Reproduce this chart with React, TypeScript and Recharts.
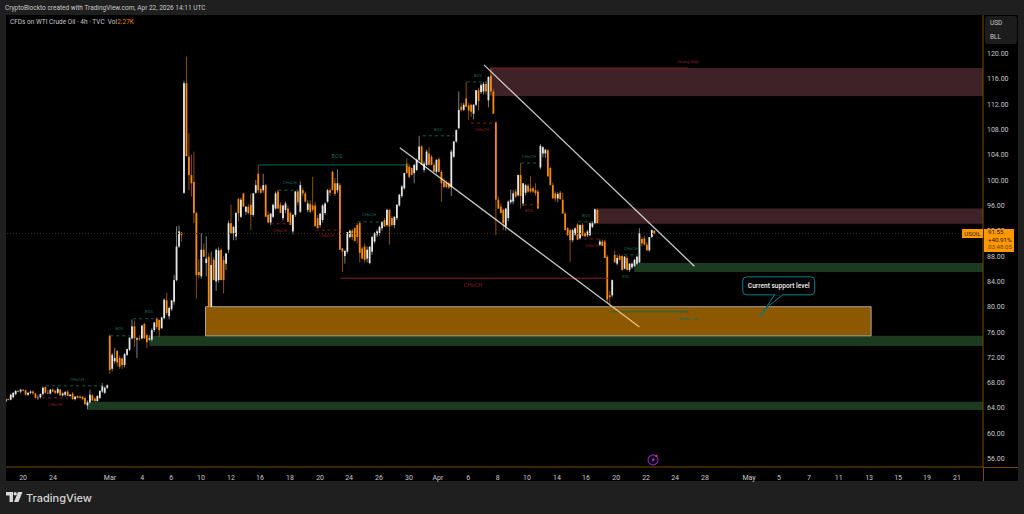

import React from "react";
import { ComposedChart, Bar, XAxis, YAxis, ReferenceArea, ReferenceLine, ReferenceDot } from "recharts";

type Ohlc = [number, number, number, number];

// Each row: open, high, low, close
const febBars: Ohlc[] = [
  [65.0,65.6,64.9,65.4],[65.4,65.5,65.2,65.3],[65.3,66.3,65.2,66.1],[65.7,66.5,65.5,66.4],[66.2,66.8,66.0,66.7],
  [66.7,66.9,66.5,66.6],[66.6,67.0,66.3,66.9],[66.9,67.0,66.6,66.8],[66.8,66.9,66.0,66.1],[66.1,66.5,65.9,66.4],
  [66.4,66.8,66.2,66.6],[66.6,66.8,66.1,66.3],[66.3,66.3,65.5,65.6],[65.6,66.0,65.3,65.7],[65.7,66.3,65.5,66.2],
  [66.2,67.4,66.0,67.2],[67.3,67.4,66.3,66.4],[66.4,66.9,66.2,66.3],[66.3,67.0,66.1,66.9],[66.9,67.1,66.5,66.6],
  [66.7,66.9,66.2,66.4],[66.4,67.3,66.2,67.0],[66.9,67.0,65.9,66.0],[66.0,66.5,65.8,66.3],[66.1,66.7,65.8,66.5],
  [66.6,66.8,65.9,65.9],[65.9,66.2,65.7,66.1],[66.3,66.5,65.3,65.4],[65.4,65.9,65.2,65.8],[65.9,66.0,65.5,65.6],
  [65.8,66.0,65.5,65.6],[65.8,65.9,65.3,65.4],[65.6,65.8,64.5,64.6],[64.4,65.2,63.8,64.9],[64.9,66.9,64.7,66.1],
  [66.0,66.2,65.1,65.2],[65.5,65.7,65.0,65.1],[65.1,66.0,65.0,65.9],[65.6,66.8,65.4,66.7],[66.6,67.9,66.4,67.5],
  [66.4,67.4,66.2,67.2],[67.2,67.7,67.0,67.6],
];
const marchRally: Ohlc[] = [
  [75.4,75.6,69.4,70.0],[70.2,72.7,69.8,72.4],[71.4,73.5,71.0,71.9],[73.0,73.2,70.6,71.2],[71.9,72.3,70.2,70.5],
  [71.8,72.0,70.2,70.8],[70.8,72.7,70.4,72.5],[72.4,73.4,72.2,73.3],[73.2,75.2,73.0,75.1],[75.0,78.0,74.8,76.9],
  [76.9,77.8,73.7,75.0],[74.8,75.2,71.9,75.0],[75.0,75.5,74.6,74.9],[75.0,77.2,74.8,77.0],[77.3,77.4,74.9,75.0],
  [75.5,75.8,73.5,74.4],[74.8,75.5,74.6,75.0],[74.8,76.6,74.5,76.3],[76.3,77.6,76.0,77.5],[78.1,78.3,76.5,76.8],
  [77.9,78.0,75.2,76.3],[76.6,78.4,76.5,78.3],[78.2,81.3,78.0,81.1],[81.0,82.2,78.7,79.0],[78.5,80.0,78.0,79.8],
  [79.6,81.1,79.3,81.0],[80.8,85.0,80.3,84.2],[84.2,92.7,84.0,89.5],[89.5,92.8,89.3,91.9],[91.7,91.8,90.3,91.3],
  [98.0,115.7,97.8,115.3],[115.3,119.5,103.7,103.8],[103.7,107.4,98.4,100.8],[100.8,104.0,97.4,99.5],[99.7,104.5,93.2,94.8],
  [94.8,95.0,81.3,85.0],[85.5,87.5,84.5,85.0],[84.8,91.6,84.4,89.0],[89.0,90.0,87.9,87.9],[86.9,91.1,84.8,87.6],
  [87.9,88.5,80.0,80.0],[80.0,88.7,79.9,86.6],[87.4,87.8,84.2,84.2],[84.0,89.2,82.5,89.0],[84.2,89.4,83.8,88.9],
  [89.0,89.2,84.2,84.2],[87.4,88.0,82.1,84.2],[86.8,88.5,85.8,88.4],
];
const marchRange: Ohlc[] = [
  [89.0,93.6,88.5,93.2],[93.2,96.1,91.5,91.6],[91.6,92.8,90.5,92.6],[91.1,95.0,90.5,94.8],[97.0,97.2,93.5,94.8],
  [94.2,97.2,94.0,96.9],[97.9,98.0,95.8,95.8],[95.0,95.9,94.5,95.8],[95.8,96.2,94.6,94.8],[96.1,97.9,92.1,94.5],
  [94.5,98.0,94.2,97.9],[98.0,100.0,97.8,99.2],[101.0,102.4,97.9,98.4],[98.6,99.0,97.8,98.0],[98.4,101.0,98.0,99.2],
  [99.2,99.4,94.2,94.2],[94.5,95.0,93.2,93.3],[93.3,94.8,92.9,94.7],[94.2,96.3,94.0,96.1],[95.5,98.2,95.3,97.9],
  [98.2,98.5,95.5,95.5],[96.1,96.5,94.8,94.8],[94.0,96.0,93.6,96.0],[95.3,96.6,94.8,96.3],[95.5,96.0,93.4,93.4],
  [94.8,95.0,92.9,92.9],[91.9,94.6,91.4,94.5],[94.5,98.3,94.2,98.2],[98.2,98.5,96.0,96.5],[95.0,99.8,94.8,99.2],
  [98.4,98.8,97.4,97.9],[97.9,98.2,96.5,96.6],[95.3,96.8,94.9,96.3],[96.2,96.8,94.8,95.0],[96.0,100.5,95.0,95.3],
  [96.0,96.5,92.7,92.7],[94.0,94.5,92.4,92.4],[92.9,94.8,92.5,94.7],[93.7,96.2,93.3,96.0],[94.8,96.5,94.5,96.3],
  [96.6,98.6,96.4,98.4],[98.4,98.8,97.5,98.0],[101.3,101.5,98.4,98.4],[99.5,100.3,97.5,97.8],[98.4,101.7,98.0,99.5],
  [99.2,99.5,89.0,89.0],[89.2,89.3,85.5,88.7],[88.0,89.0,86.8,88.8],[88.7,91.8,88.4,91.8],[91.0,92.2,90.8,92.0],
  [92.0,92.3,90.5,91.0],[92.4,92.6,90.3,90.4],[92.9,93.2,90.0,91.0],[93.2,93.4,87.0,88.5],[89.2,89.5,87.5,87.6],
  [89.5,90.0,87.0,87.4],[87.6,89.5,87.0,89.0],[86.9,89.5,86.7,89.5],[88.7,91.2,88.2,91.0],[90.3,91.8,90.0,91.6],
  [91.4,92.2,91.0,91.9],[91.6,92.8,91.2,92.6],[92.4,93.5,92.0,93.4],[93.7,94.0,92.6,92.7],[92.9,95.5,92.6,95.3],
  [95.3,95.4,89.8,92.7],[94.0,94.3,92.7,92.9],[92.9,94.3,92.4,94.2],
];
const aprilPush: Ohlc[] = [
  [94.0,96.2,93.7,96.1],[96.0,97.8,95.8,97.7],[97.5,99.2,97.2,99.0],[98.7,101.2,98.5,101.1],[102.6,103.4,101.0,101.1],
  [102.1,102.5,100.3,100.5],[101.9,102.0,100.8,100.8],[101.1,102.6,99.5,102.4],[101.6,103.4,101.4,103.2],[103.2,107.0,103.0,105.3],
  [105.3,105.5,102.4,102.4],[101.6,103.0,101.2,102.6],[102.4,104.8,102.2,104.5],[104.2,105.2,102.4,102.4],[103.7,104.0,102.3,102.4],
  [102.4,102.8,101.3,101.3],[101.3,103.3,101.0,103.2],[103.3,103.6,101.3,101.3],[101.3,101.6,96.6,99.5],[99.7,100.3,98.8,98.9],
  [99.5,100.0,98.7,98.9],[99.5,99.8,98.6,98.8],[98.9,104.8,97.5,104.5],[103.7,106.2,103.5,106.1],[106.1,108.0,105.9,107.9],
  [108.2,114.0,108.0,111.1],[111.6,112.2,110.8,111.1],[111.1,112.2,110.9,111.9],[112.9,115.5,111.5,111.6],[111.8,112.2,109.5,111.0],
  [111.9,112.0,110.0,110.8],[110.5,112.0,109.6,111.9],[111.9,114.2,111.7,114.2],[114.2,114.6,111.0,112.5],[113.9,115.3,113.6,115.0],
  [114.0,115.5,113.5,115.2],[115.2,115.6,113.5,114.0],[112.6,116.4,111.5,116.3],[116.5,117.7,113.5,114.0],[114.0,114.4,110.5,110.5],
];
const aprilDrop: Ohlc[] = [
  [109.1,109.3,91.3,96.9],[96.9,97.4,95.5,95.5],[95.8,96.3,94.7,94.8],[95.3,95.5,92.1,93.2],[92.7,95.6,92.0,95.5],
  [94.0,96.8,93.5,96.6],[96.5,98.5,96.2,96.9],[96.6,98.4,96.2,97.9],[98.2,98.6,97.2,97.4],[97.6,100.9,97.4,100.8],
  [100.8,102.7,95.5,97.5],[96.3,99.5,95.9,99.5],[98.0,99.4,97.6,99.2],[99.1,99.4,98.0,98.2],[98.7,100.6,98.0,98.2],
  [98.7,99.0,98.0,98.2],[98.4,99.5,97.5,97.9],[98.2,98.5,95.5,95.5],[102.0,105.7,101.7,105.4],[104.2,105.3,103.6,105.2],
  [104.2,104.9,103.5,104.8],[104.7,104.9,100.5,100.6],[101.9,102.1,99.2,99.2],[99.2,99.6,97.1,97.1],[97.9,98.2,96.6,97.1],
  [97.1,98.1,96.5,97.8],[98.0,98.3,96.9,97.0],[96.9,98.0,94.7,94.7],[94.7,95.0,92.1,92.1],[92.4,92.6,91.2,91.3],
  [92.1,92.3,87.1,90.5],[90.5,92.3,90.2,92.1],[91.4,92.5,91.2,92.4],[93.0,93.2,90.5,90.6],[90.8,93.0,90.6,92.9],
  [92.9,93.2,91.1,91.2],[91.6,91.8,91.0,91.1],[91.3,92.1,91.0,91.9],[91.3,93.3,91.1,93.2],[92.6,93.5,92.4,93.2],
  [93.2,95.5,93.0,95.4],[95.3,95.5,93.2,93.2],
];
const aprilEnd: Ohlc[] = [
  [89.8,90.6,89.6,90.3],[90.3,90.6,89.6,89.6],[90.3,90.6,87.7,87.7],[87.9,88.2,80.6,81.1],[81.8,82.5,79.2,81.5],
  [81.8,84.3,81.5,84.2],[88.2,88.9,87.0,87.0],[86.8,88.2,86.5,87.7],[88.0,88.3,87.2,87.4],[88.0,88.2,85.7,85.8],
  [86.0,88.0,85.9,87.9],[87.7,88.0,85.7,85.8],[85.8,86.9,85.5,86.8],[86.2,87.0,86.0,86.8],[86.4,87.6,86.3,87.4],
  [86.8,88.0,86.6,87.9],[87.0,92.4,86.9,91.6],[90.7,91.0,89.5,90.0],[90.8,91.2,89.7,89.8],[89.8,90.2,88.9,88.9],
  [88.9,91.0,88.7,91.0],[91.0,92.2,90.9,92.1],[92.0,92.1,91.5,91.55],
];

const allBars = [...febBars, ...marchRally, ...marchRange, ...aprilPush, ...aprilDrop, ...aprilEnd];
const candles = allBars.map(([o, h, l, c], i) => ({ i, o, h, l, c, range: [l, h] }));

const dateTicks = [6.9,19,42,55,66.7,78.8,90.9,102.6,114.7,126.9,138.6,150.7,162.8,174.5,186.7,198.6,210.5,222.6,234.3,246.5,258.6,270.3,282.4,300.2,312.3,324.4,336.4,348.7,360.4,372.1,384.2];
const dateLabels = ["20","24","Mar","4","6","10","12","16","18","20","24","26","30","Apr","6","8","10","14","16","20","22","24","28","May","5","7","11","13","15","19","21"];
const priceTicks = [56,60,64,68,72,76,80,84,88,92,96,100,104,108,112,116,120];

// [from bar, to bar, top price, bottom price]
const redZones = [[195.5,394.7,117.7,113.3],[238,394.7,95.5,93.1]];
const greenZones = [[253.8,394.7,86.9,85.5],[57.9,394.7,75.4,73.8],[32.8,394.7,65.0,63.7]];
const supportZone = [80.6,349.5,80,75.4];

// [from bar, to bar, price]
const greenDashes = [[16.2,40,67.5],[42.1,50.2,75.4],[51.4,61.1,78.1],[110.1,117.8,98.4],[142.1,152.6,93.4],[168.4,181,107],[186.2,194.7,115.5],[208.1,215.4,102.7],[231.2,238,93.4],[249.8,256.3,88.2]];
const redDashes = [[12.1,25.1,65.6],[106.9,115,93.1],[125.1,135.2,92.1],[187.9,197.2,109],[209.3,215,96.1],[233.6,240,90.7]];
const greenSolid = [[102,162.8,102.4],[244.5,275.7,79.2]];
const redSolid = [[135.2,243.3,84.5],[195.5,275.6,117.7]];

// [from bar, from price, to bar, to price]
const whiteTrendLines = [[193.1,118.2,278.1,86.4],[159.1,105.1,245,80]];
const trendOverSupport = [245,80,255.9,76.8];

const GREEN = "#0d6b58";
const RED = "#8f1f22";
// [text, bar, price]
const greenNotes: [string, number, number][] = [["CHoCH",28.7,68.4],["BOS",45.7,76.5],["BOS",57.8,79.2],["CHoCH",114.7,99.5],["CHoCH",146.7,94.5],["BOS",174.5,107.9],["BOS",190.7,116.4],["CHoCH",211.3,103.7],["BOS",234.3,94.3],["CHoCH",252.5,89.1],["EQL",250.5,84.7],["Weak Low",275.6,78.1]];
const redNotes: [string, number, number][] = [["CHoCH",19.8,64.5],["CHoCH",110.7,92],["CHoCH",129.7,91.2],["CHoCH",192.3,107.9],["BOS",211.3,95.1],["CHoCH",236.8,89.6],["Strong High",275.6,118.7]];
const bigNotes: [string, number, number, string][] = [["BOS",133.7,103.8,GREEN],["CHoCH",188.7,83.3,RED]];

const lastPrice = 91.55;
const calloutTip = [304.5, 78.4];
const flashMark = [261.4, 55.8];

const FONT = "Roboto, 'Open Sans', sans-serif";

function Candle(props: any) {
  const { x, y, width, height, payload } = props;
  const { o, h, l, c } = payload;
  const up = c >= o;
  const top = Math.min(y, y + height);
  const span = Math.abs(height);
  const ratio = h === l ? 0 : span / (h - l);
  const bodyTop = top + (h - Math.max(o, c)) * ratio;
  const bodyH = Math.max(Math.abs(o - c) * ratio, 0.9);
  const cx = x + width / 2;
  const color = up ? "#e6e6e6" : "#f58a0b";
  return (
    <g>
      <line x1={cx} x2={cx} y1={top} y2={top + span} stroke={up ? "#8d8d8d" : "#9a5808"} strokeWidth={0.9} />
      <rect x={cx - 0.9} y={bodyTop} width={1.8} height={bodyH} fill={color} />
    </g>
  );
}

const noteShape = (text: string, color: string, size: number) => (p: any) => (
  <text x={p.cx} y={p.cy} fill={color} fontSize={size} fontFamily={FONT} textAnchor="middle" dominantBaseline="middle">{text}</text>
);

function Callout(p: any) {
  const { cx, cy } = p;
  return (
    <g transform={`translate(${cx},${cy})`}>
      <rect x={-17} y={-40} width={72} height={18} rx={4} fill="#000" stroke="#0a7f8c" strokeWidth={1} />
      <path d="M15,-22 L0,0 L9,-11 L23,-22 Z" fill="#000" stroke="#0a7f8c" strokeWidth={1} />
      <rect x={15.5} y={-23.5} width={7} height={2} fill="#000" />
      <text x={19} y={-31} fill="#f0f0f0" fontSize={6.6} fontFamily={FONT} fontWeight={500} textAnchor="middle" dominantBaseline="middle">Current support level</text>
    </g>
  );
}

function FlashIcon(p: any) {
  const { cx, cy } = p;
  return (
    <g transform={`translate(${cx},${cy})`}>
      <circle r={5} fill="#12041c" stroke="#7b2fa8" strokeWidth={1.1} />
      <path d="M1,-3.2 L-1.6,0.6 L0,0.6 L-1,3.2 L1.8,-0.8 L0.2,-0.8 Z" fill="#9b4fd0" />
      <circle cx={3.4} cy={-4} r={1.2} fill="#e0304a" />
    </g>
  );
}

const abs = (style: React.CSSProperties): React.CSSProperties => ({ position: "absolute", whiteSpace: "nowrap", fontFamily: FONT, ...style });

export default function App() {
  return (
    <div style={{ position: "fixed", left: 0, top: 0, width: 1024, height: 514, background: "#1f1f1f", overflow: "hidden" }}>
      <div style={abs({ left: 6, top: 15, width: 1012, height: 466, background: "#000" })} />
      <div style={{ position: "absolute", left: 0, top: 0 }}>
        <ComposedChart
          width={1024}
          height={514}
          data={candles}
          margin={{ top: 15, right: 0, bottom: 27, left: 6 }}
          barSize={2}
        >
          <XAxis
            dataKey="i"
            type="number"
            scale="linear"
            domain={[0, 394.7]}
            ticks={dateTicks}
            interval={0}
            allowDataOverflow
            height={20}
            tickLine={false}
            axisLine={{ stroke: "#7a4a08" }}
            tick={{ fill: "#c9c9c9", fontSize: 7, fontFamily: FONT }}
            tickMargin={2}
            tickFormatter={(_: number, idx: number) => dateLabels[idx]}
          />
          <YAxis
            orientation="right"
            type="number"
            domain={[54.68, 126.08]}
            ticks={priceTicks}
            interval={0}
            allowDataOverflow
            width={41}
            tickLine={false}
            axisLine={{ stroke: "#7a4a08" }}
            tick={{ fill: "#c9c9c9", fontSize: 7, fontFamily: FONT }}
            tickSize={2}
            tickMargin={2}
            tickFormatter={(v: number) => v.toFixed(2)}
          />
          {redZones.map((z, k) => (
            <ReferenceArea key={`r${k}`} x1={z[0]} x2={z[1]} y1={z[2]} y2={z[3]} fill="#3f2227" fillOpacity={1} stroke="none" />
          ))}
          {greenZones.map((z, k) => (
            <ReferenceArea key={`g${k}`} x1={z[0]} x2={z[1]} y1={z[2]} y2={z[3]} fill="#1b3a1f" fillOpacity={1} stroke="none" />
          ))}
          <ReferenceArea x1={supportZone[0]} x2={supportZone[1]} y1={supportZone[2]} y2={supportZone[3]} fill="#8c5900" fillOpacity={1} stroke="#a9a49c" strokeWidth={1} />
          <ReferenceLine y={lastPrice} stroke="#46300c" strokeDasharray="1 2" strokeWidth={1} />
          <Bar dataKey="range" shape={<Candle />} isAnimationActive={false} />
          {greenDashes.map((d, k) => (
            <ReferenceLine key={`gd${k}`} segment={[{ x: d[0], y: d[2] }, { x: d[1], y: d[2] }]} stroke={GREEN} strokeDasharray="3 3" strokeWidth={0.9} />
          ))}
          {redDashes.map((d, k) => (
            <ReferenceLine key={`rd${k}`} segment={[{ x: d[0], y: d[2] }, { x: d[1], y: d[2] }]} stroke={RED} strokeDasharray="3 3" strokeWidth={0.9} />
          ))}
          {greenSolid.map((d, k) => (
            <ReferenceLine key={`gs${k}`} segment={[{ x: d[0], y: d[2] }, { x: d[1], y: d[2] }]} stroke={GREEN} strokeWidth={1} />
          ))}
          {redSolid.map((d, k) => (
            <ReferenceLine key={`rs${k}`} segment={[{ x: d[0], y: d[2] }, { x: d[1], y: d[2] }]} stroke={RED} strokeWidth={1} />
          ))}
          {whiteTrendLines.map((t, k) => (
            <ReferenceLine key={`t${k}`} segment={[{ x: t[0], y: t[1] }, { x: t[2], y: t[3] }]} stroke="#ffffff" strokeOpacity={0.78} strokeWidth={1.3} />
          ))}
          <ReferenceLine segment={[{ x: trendOverSupport[0], y: trendOverSupport[1] }, { x: trendOverSupport[2], y: trendOverSupport[3] }]} stroke="#f2bf7c" strokeWidth={1.3} />
          {greenNotes.map((n, k) => (
            <ReferenceDot key={`gn${k}`} x={n[1]} y={n[2]} r={0} shape={noteShape(n[0], GREEN, 4.2)} />
          ))}
          {redNotes.map((n, k) => (
            <ReferenceDot key={`rn${k}`} x={n[1]} y={n[2]} r={0} shape={noteShape(n[0], RED, 4.2)} />
          ))}
          {bigNotes.map((n, k) => (
            <ReferenceDot key={`bn${k}`} x={n[1]} y={n[2]} r={0} shape={noteShape(n[0], n[3], 5.6)} />
          ))}
          <ReferenceDot x={calloutTip[0]} y={calloutTip[1]} r={0} shape={<Callout />} />
          <ReferenceDot x={flashMark[0]} y={flashMark[1]} r={0} shape={<FlashIcon />} />
        </ComposedChart>
      </div>

      <div style={abs({ left: 983, top: 467, width: 35, height: 1, background: "#7a4a08" })} />
      <div style={abs({ left: 983, top: 467, width: 1, height: 14, background: "#7a4a08" })} />

      <div style={abs({ left: 5, top: 3, fontSize: 6.5, color: "#c8c8c8", lineHeight: "10px" })}>CryptoBlockto created with TradingView.com, Apr 22, 2026 14:11 UTC</div>
      <div style={abs({ left: 10, top: 17, fontSize: 6.5, color: "#c8c8c8", lineHeight: "10px" })}>
        CFDs on WTI Crude Oil · 4h · TVC&nbsp;&nbsp;Vol<span style={{ color: "#e8820c" }}>2.27K</span>
      </div>

      <div style={abs({ left: 985, top: 16, width: 32, height: 28, background: "#1c1c1c", borderRadius: 3 })} />
      <div style={abs({ left: 990, top: 18, fontSize: 6.5, color: "#c8c8c8", lineHeight: "10px" })}>USD</div>
      <div style={abs({ left: 990, top: 32, fontSize: 6.5, color: "#c8c8c8", lineHeight: "10px" })}>BLL</div>

      <div style={abs({ left: 962, top: 229, width: 21, height: 9, background: "#ff9800", color: "#2a1a00", fontSize: 6, lineHeight: "9px", textAlign: "center" })}>USOIL</div>
      <div style={abs({ left: 984, top: 229, width: 30, height: 23, background: "#ff9800", color: "#1c1000", fontSize: 6.2, lineHeight: "7.6px", paddingLeft: 4, boxSizing: "border-box" })}>
        91.55<br />+40.91%<br /><span style={{ color: "#6a4000" }}>03:48:05</span>
      </div>

      <svg style={{ position: "absolute", left: 6, top: 492 }} width={18} height={11} viewBox="0 0 18 11">
        <path d="M0,0 H7 V10 H3.5 V3.4 H0 Z" fill="#d6d6d6" />
        <circle cx={9.2} cy={1.7} r={1.7} fill="#d6d6d6" />
        <path d="M12,0 H16.5 L12.4,10 H8 Z" fill="#d6d6d6" />
      </svg>
      <div style={abs({ left: 26, top: 489, fontSize: 11, color: "#d6d6d6", lineHeight: "18px", fontWeight: 500, fontFamily: "Inter, Roboto, sans-serif" })}>TradingView</div>
    </div>
  );
}
